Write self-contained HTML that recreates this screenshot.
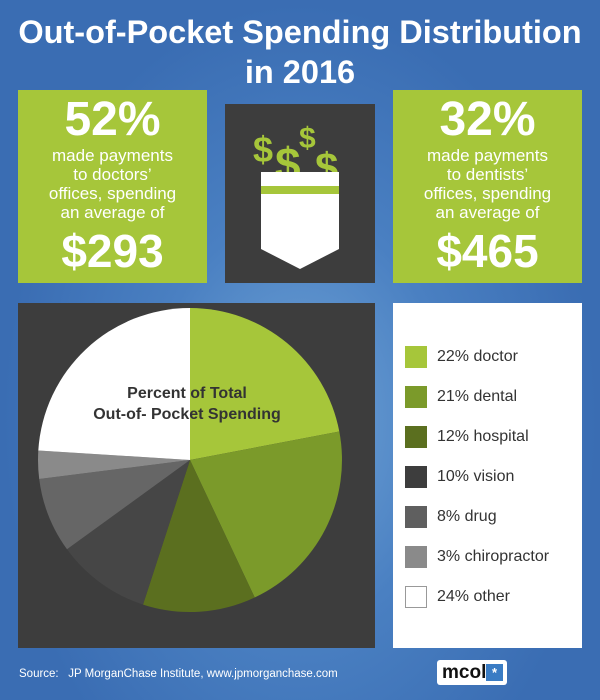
<!DOCTYPE html><html><head><style>
body{margin:0;width:600px;height:700px;overflow:hidden;font-family:"Liberation Sans",Arial,sans-serif;}
.bg{position:absolute;left:0;top:0;width:600px;height:700px;background:radial-gradient(ellipse at 300px 420px,#6fa3d6 0,#4a80c2 35%,#3a6db3 70%);}
.t{position:absolute;left:0;width:600px;text-align:center;color:#fff;font-weight:bold;font-size:32.5px;letter-spacing:0px}
.g{position:absolute;top:90px;width:189px;height:193px;background:#a6c63a;color:#fff;text-align:center}
.g .b{font-size:48px;font-weight:bold;margin-top:4px;line-height:52px}
.g .s{font-size:17px;line-height:19px}
.g .c{font-size:46px;font-weight:bold;line-height:50px;margin-top:4px}
.lg{position:absolute;left:393px;top:303px;width:189px;height:345px;background:#fff}
.it{position:absolute;left:12px;font-size:16px;color:#333;height:24px;line-height:24px;padding-left:32px}
.it i{position:absolute;left:0;top:1px;width:22px;height:22px;box-sizing:border-box}
</style></head><body>
<div class="bg"></div>
<div class="t" style="top:14px">Out-of-Pocket Spending Distribution</div>
<div class="t" style="top:54px">in 2016</div>
<div class="g" style="left:18px"><div class="b">52%</div><div class="s">made payments<br>to doctors’<br>offices, spending<br>an average of</div><div class="c">$293</div></div>
<div class="g" style="left:393px"><div class="b">32%</div><div class="s">made payments<br>to dentists’<br>offices, spending<br>an average of</div><div class="c">$465</div></div>
<div style="position:absolute;left:225px;top:104px;width:150px;height:179px;background:#3d3d3d">
<svg width="150" height="179">
<g fill="#a6c63a" font-family="Liberation Sans,Arial" font-weight="bold">
<text x="28" y="58" font-size="36">$</text><text x="50" y="76" font-size="46">$</text><text x="74" y="44" font-size="30">$</text><text x="90" y="78" font-size="42">$</text></g>
<path d="M36 68H114V145L75 165L36 145Z" fill="#fff"/>
<rect x="36" y="82" width="78" height="8" fill="#a6c63a"/>
</svg></div>
<div style="position:absolute;left:18px;top:303px;width:357px;height:345px;background:#3d3d3d;overflow:hidden">
<svg width="357" height="345" style="position:absolute;left:-18px;top:-303px;width:375px;height:648px" viewBox="0 0 375 648">
<path d="M190 460L190 308A152 152 0 0 1 339.3 431.5Z" fill="#a6c63a"/>
<path d="M190 460L339.3 431.5A152 152 0 0 1 254.7 597.5Z" fill="#7b9a2a"/>
<path d="M190 460L254.7 597.5A152 152 0 0 1 143 604.6Z" fill="#5b6f1f"/>
<path d="M190 460L143 604.6A152 152 0 0 1 67 549.3Z" fill="#464646"/>
<path d="M190 460L67 549.3A152 152 0 0 1 39.2 479Z" fill="#666"/>
<path d="M190 460L39.2 479A152 152 0 0 1 38.3 450.5Z" fill="#8a8a8a"/>
<path d="M190 460L38.3 450.5A152 152 0 0 1 190 308Z" fill="#fff"/>
<g font-family="Liberation Sans,Arial" font-weight="bold" font-size="16" fill="#333" text-anchor="middle"><text x="187" y="398">Percent of Total</text><text x="187" y="419">Out-of- Pocket Spending</text></g>
</svg></div>
<div class="lg">
<div class="it" style="top:42px"><i style="background:#a6c63a"></i>22% doctor</div>
<div class="it" style="top:82px"><i style="background:#7b9a2a"></i>21% dental</div>
<div class="it" style="top:122px"><i style="background:#5b6f1f"></i>12% hospital</div>
<div class="it" style="top:162px"><i style="background:#3d3d3d"></i>10% vision</div>
<div class="it" style="top:202px"><i style="background:#5f5f5f"></i>8% drug</div>
<div class="it" style="top:242px"><i style="background:#8a8a8a"></i>3% chiropractor</div>
<div class="it" style="top:282px"><i style="border:1px solid #999;background:#fff"></i>24% other</div>
</div>
<div style="position:absolute;left:19px;top:668px;color:#fff;font-size:11.5px">Source:&nbsp;&nbsp; JP MorganChase Institute, www.jpmorganchase.com</div>
<div style="position:absolute;left:437px;top:660px;width:70px;height:25px;background:#fff;border-radius:3px;font-weight:bold;font-size:19px;line-height:25px;padding-left:5px;color:#111;box-sizing:border-box">mcol<span style="position:absolute;right:4px;top:4px;width:17px;height:17px;background:#3a7cc4;color:#fff;font-size:13px;line-height:17px;text-align:center">*</span></div>
</body></html>
